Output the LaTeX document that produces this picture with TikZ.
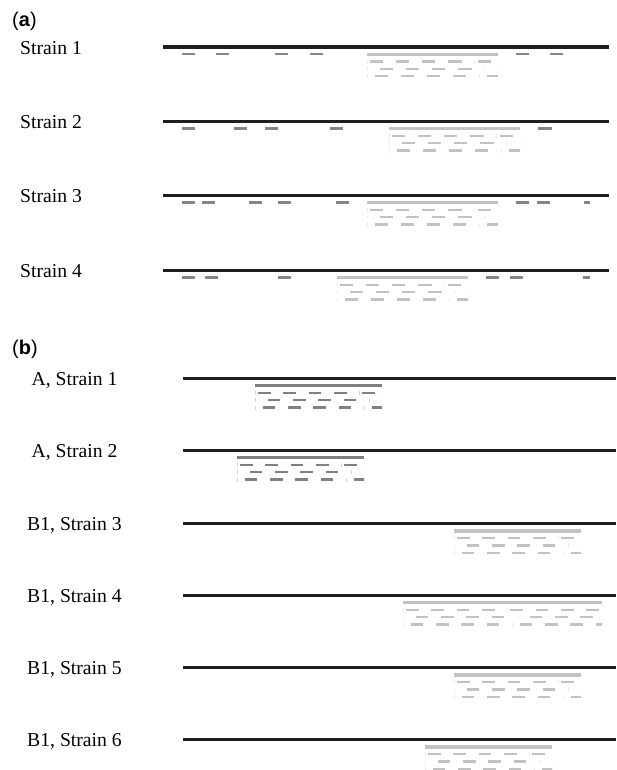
\documentclass[tikz,border=0pt]{standalone}
\usepackage{fontspec}
\setmainfont{Liberation Serif}
\newfontfamily\panelfont{Liberation Sans}
\definecolor{lineblack}{HTML}{1E1E1E}
\definecolor{readgray}{HTML}{858585}
\definecolor{contigdark}{HTML}{808080}
\definecolor{contiglight}{HTML}{C2C2C2}
\tikzset{
  strain_line/.style = {draw=lineblack, line width=3pt},
  read/.style = {draw=readgray, line width=2pt},
  contig_bar/.style = {line width=2.6pt},
  contig_read/.style = {line width=1.9pt},
  read_tick/.style = {line width=0.25pt},
  strain_label/.style = {font=\fontsize{16.8}{20}\selectfont, inner sep=0pt},
  panel_label/.style = {font=\panelfont\fontsize{17}{20}\selectfont,
    inner sep=0pt, anchor=base west}
}

% contig: x start, line y, length, scale, colour
\newcommand{\contig}[5]{%
  \draw[contig_bar, draw=#5] (#1,#2+7.3) -- ++(#3,0);
  \begin{scope}
    \clip (#1-1,#2+9) rectangle (#1+#3,#2+35);
    \foreach \row/\off in {1/3, 2/12.7, 3/7.7} {
      \foreach \grp in {0,1} {
        \draw[read_tick, draw=#5!35]
          ({#1+#4*\grp*(\off+101.3)},{#2+7.3+7.3*\row-2}) -- ++(0,4);
        \foreach \kk in {0,...,3}
          \draw[contig_read, draw=#5]
            ({#1+#4*(\grp*(\off+101.3)+\off+25.33*\kk)},{#2+7.3+7.3*\row})
            -- ++({#4*12.7},0);
      }
    }
  \end{scope}
}
% single reads: line y, list of x/length
\newcommand{\reads}[2]{%
  \foreach \rx/\rl in {#2}
    \draw[read] (\rx,#1+7.3) -- ++(\rl,0);
}

\begin{document}
\begin{tikzpicture}[x=0.03cm, y=-0.03cm]
  \useasboundingbox (0,0) rectangle (617,770);

  % (a)
  \node[panel_label] (panel_a) at (12,26.8) {(\textbf{a})};
  \foreach \i/\y in {1/47, 2/121.3, 3/195.3, 4/270.3} {
    \node[strain_label, anchor=base west] (lbl_a\i) at (20,\y+7) {Strain \i};
    \draw[strain_line] (163,\y) -- (609,\y);
  }
  \reads{47}{182/13, 216/13, 275/13, 310/13, 516/13, 550/13}
  \contig{367}{47}{131}{1.0315}{contiglight}
  \reads{121.3}{181.7/13, 234/13, 265/13, 330.3/13, 538/14}
  \contig{389}{121.3}{131}{1.0315}{contiglight}
  \reads{195.3}{181.7/13, 202.3/13, 249.3/13, 278.3/13, 335.7/13, 516/13, 537/13, 583.7/6.6}
  \contig{367}{195.3}{131}{1.0315}{contiglight}
  \reads{270.3}{181.7/13, 205/13, 278.3/13, 486.3/13, 510/13, 583/7.3}
  \contig{337}{270.3}{131}{1.0315}{contiglight}

  % (b)
  \node[panel_label] (panel_b) at (12,354) {(\textbf{b})};
  \foreach \i/\y/\txt in {1/378.3/{A, Strain 1}, 2/450.3/{A, Strain 2},
      3/523.7/{B1, Strain 3}, 4/595.3/{B1, Strain 4},
      5/667.7/{B1, Strain 5}, 6/739.7/{B1, Strain 6}} {
    \node[strain_label, anchor=base] (lbl_b\i) at (74.5,\y+7) {\txt};
    \draw[strain_line] (183,\y) -- (616,\y);
  }
  \contig{255}{378.3}{127}{1}{contigdark}
  \contig{237}{450.3}{127}{1}{contigdark}
  \contig{454}{523.7}{127}{1}{contiglight}
  \contig{403}{595.3}{199}{1}{contiglight}
  \contig{454}{667.7}{127}{1}{contiglight}
  \contig{425}{739.7}{127}{1}{contiglight}
\end{tikzpicture}
\end{document}
